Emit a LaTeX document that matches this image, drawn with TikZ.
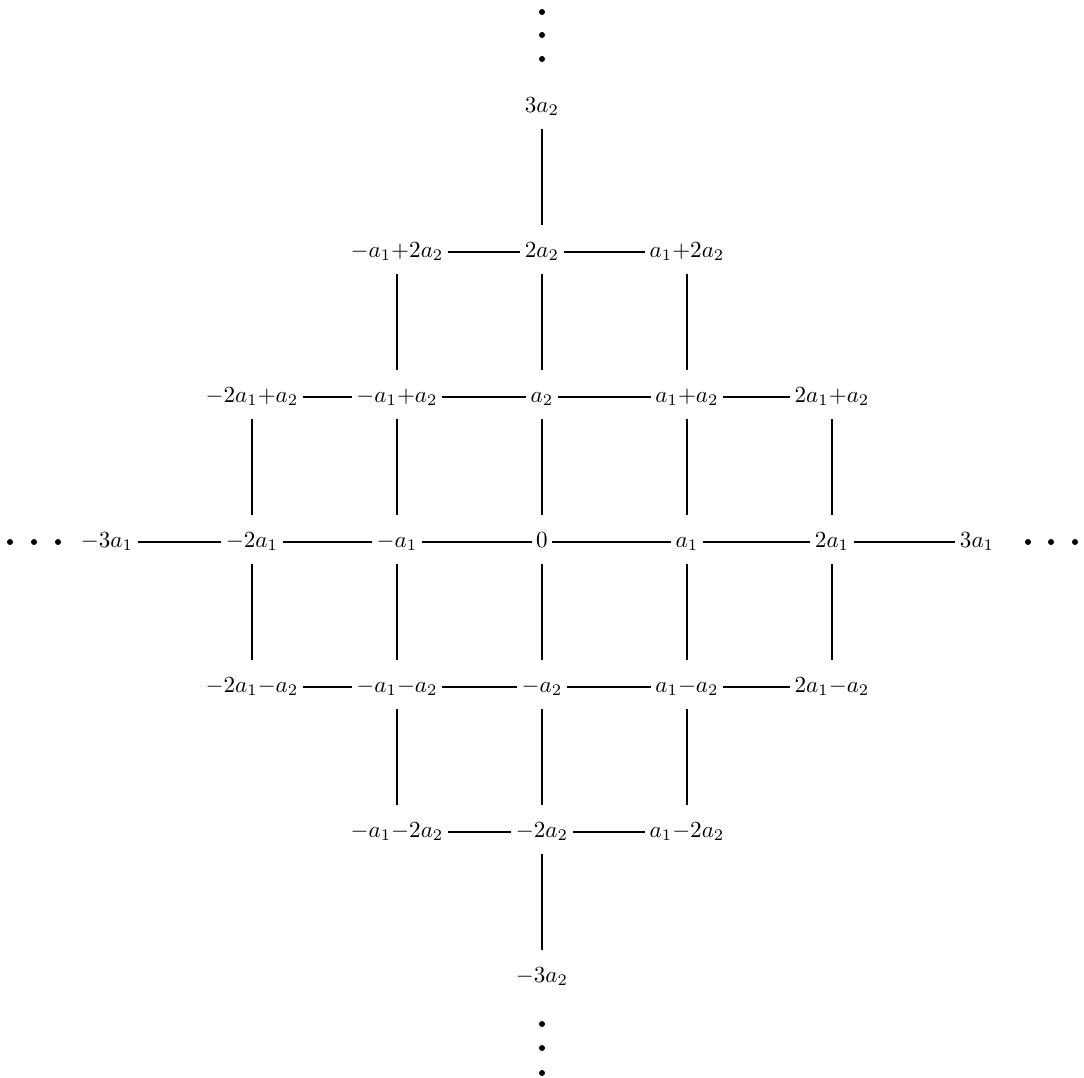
\documentclass[tikz,border=0pt]{standalone}
\begin{document}
\begin{tikzpicture}[x=0.01522cm,y=-0.01522cm,
  lab/.style={inner xsep=1.8pt,inner ysep=2.5pt,text height=7pt,text depth=2.5pt},
  hl/.style={line width=0.65pt},
  vl/.style={line width=0.65pt,shorten <=9.5pt,shorten >=11.5pt},
  pt/.style={circle,fill,inner sep=0pt,minimum size=2.6pt}]
\useasboundingbox (0,0) rectangle (1084,1078);
% row 3a2
\node[lab] (n03) at (542,107) {$3a_2$};
% row 2a2
\node[lab] (m12) at (397,252) {$-a_1{+}2a_2$};
\node[lab] (n02) at (542,252) {$2a_2$};
\node[lab] (p12) at (687,252) {$a_1{+}2a_2$};
% row a2
\node[lab] (m21) at (252,397) {$-2a_1{+}a_2$};
\node[lab] (m11) at (397,397) {$-a_1{+}a_2$};
\node[lab] (n01) at (542,397) {$a_2$};
\node[lab] (p11) at (687,397) {$a_1{+}a_2$};
\node[lab] (p21) at (832,397) {$2a_1{+}a_2$};
% row 0
\node[lab] (m30) at (107,542) {$-3a_1$};
\node[lab] (m20) at (252,542) {$-2a_1$};
\node[lab] (m10) at (397,542) {$-a_1$};
\node[lab] (n00) at (542,542) {$0$};
\node[lab] (p10) at (687,542) {$a_1$};
\node[lab] (p20) at (832,542) {$2a_1$};
\node[lab] (p30) at (977,542) {$3a_1$};
% row -a2
\node[lab] (m2m1) at (252,687) {$-2a_1{-}a_2$};
\node[lab] (m1m1) at (397,687) {$-a_1{-}a_2$};
\node[lab] (n0m1) at (542,687) {$-a_2$};
\node[lab] (p1m1) at (687,687) {$a_1{-}a_2$};
\node[lab] (p2m1) at (832,687) {$2a_1{-}a_2$};
% row -2a2
\node[lab] (m1m2) at (397,832) {$-a_1{-}2a_2$};
\node[lab] (n0m2) at (542,832) {$-2a_2$};
\node[lab] (p1m2) at (687,832) {$a_1{-}2a_2$};
% row -3a2
\node[lab] (n0m3) at (542,977) {$-3a_2$};
% dots
\node[pt] (t1) at (542,12) {};
\node[pt] (t2) at (542,35) {};
\node[pt] (t3) at (542,59) {};
\node[pt] (b1) at (542,1024) {};
\node[pt] (b2) at (542,1048) {};
\node[pt] (b3) at (542,1073) {};
\node[pt] (l1) at (10,542) {};
\node[pt] (l2) at (34,542) {};
\node[pt] (l3) at (58,542) {};
\node[pt] (r1) at (1028,542) {};
\node[pt] (r2) at (1051,542) {};
\node[pt] (r3) at (1075,542) {};
% horizontal connectors
\draw[hl] (m12) -- (n02); \draw[hl] (n02) -- (p12);
\draw[hl] (m21) -- (m11); \draw[hl] (m11) -- (n01); \draw[hl] (n01) -- (p11); \draw[hl] (p11) -- (p21);
\draw[hl] (m30) -- (m20); \draw[hl] (m20) -- (m10); \draw[hl] (m10) -- (n00);
\draw[hl] (n00) -- (p10); \draw[hl] (p10) -- (p20); \draw[hl] (p20) -- (p30);
\draw[hl] (m2m1) -- (m1m1); \draw[hl] (m1m1) -- (n0m1); \draw[hl] (n0m1) -- (p1m1); \draw[hl] (p1m1) -- (p2m1);
\draw[hl] (m1m2) -- (n0m2); \draw[hl] (n0m2) -- (p1m2);
% vertical connectors
\draw[vl] (n03.center) -- (n02.center);
\draw[vl] (n02.center) -- (n01.center);
\draw[vl] (n01.center) -- (n00.center);
\draw[vl] (n00.center) -- (n0m1.center);
\draw[vl] (n0m1.center) -- (n0m2.center);
\draw[vl] (n0m2.center) -- (n0m3.center);
\draw[vl] (m12.center) -- (m11.center);
\draw[vl] (m11.center) -- (m10.center);
\draw[vl] (m10.center) -- (m1m1.center);
\draw[vl] (m1m1.center) -- (m1m2.center);
\draw[vl] (p12.center) -- (p11.center);
\draw[vl] (p11.center) -- (p10.center);
\draw[vl] (p10.center) -- (p1m1.center);
\draw[vl] (p1m1.center) -- (p1m2.center);
\draw[vl] (m21.center) -- (m20.center);
\draw[vl] (m20.center) -- (m2m1.center);
\draw[vl] (p21.center) -- (p20.center);
\draw[vl] (p20.center) -- (p2m1.center);
\end{tikzpicture}
\end{document}
